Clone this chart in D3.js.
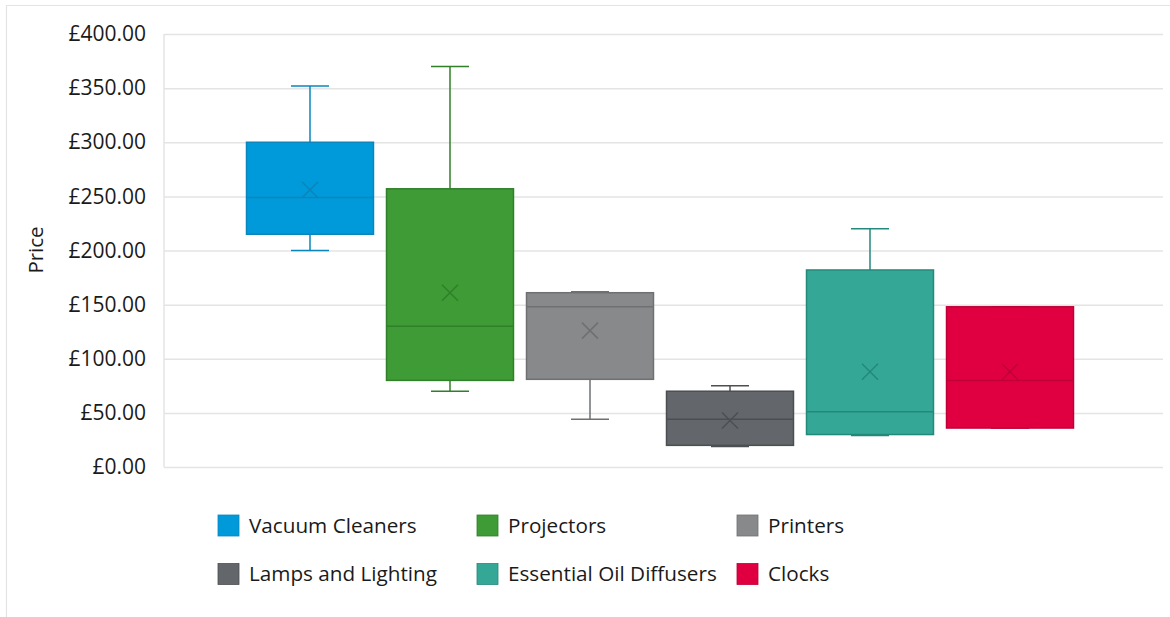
<!DOCTYPE html>
<html>
<head>
<meta charset="utf-8">
<script src="https://cdn.jsdelivr.net/npm/d3@7"></script>
<style>
  html, body { margin: 0; padding: 0; background: #fff; }
  svg { display: block; }
  svg text { font-family: "Open Sans", "Noto Sans", sans-serif; }
</style>
</head>
<body>
<svg id="chart" width="1170" height="617"></svg>
<script>
// ---- data ----
const seriesNames = ["Vacuum Cleaners", "Projectors", "Printers", "Lamps and Lighting", "Essential Oil Diffusers", "Clocks"];
const minValues    = [200, 70, 44, 19, 29, 36];
const q1Values     = [215, 80, 81, 20, 30, 36];
const medianValues = [249, 130, 148, 44, 51, 80];
const meanValues   = [256, 161, 126, 43, 88, 88];
const q3Values     = [300, 257, 161, 70, 182, 148];
const maxValues    = [352, 370, 162, 75, 220, 148];
const fillColors   = ["#009ADA", "#3F9B35", "#87898B", "#63666A", "#35A797", "#E00042"];
const strokeColors = ["#0A86BD", "#2F8029", "#6E7072", "#4C4F52", "#23897B", "#BF0036"];
const yTicks = [0, 50, 100, 150, 200, 250, 300, 350, 400];
const yTitle = "Price";

// ---- layout ----
const svg = d3.select("#chart");
const plot = { left: 164, right: 1163, top: 34, bottom: 467 };

const y = d3.scaleLinear().domain([0, 400]).range([plot.bottom, plot.top]);
const x = d3.scaleBand().domain(seriesNames).range([240, 1080]).paddingInner(0.093).paddingOuter(0.0465);
const fmt = v => "£" + d3.format(",.2f")(v);

// outer border
svg.append("line").attr("x1", 6).attr("x2", 1170).attr("y1", 5.5).attr("y2", 5.5).attr("stroke", "#e3e3e3").attr("stroke-width", 1.2);
svg.append("line").attr("x1", 6.5).attr("x2", 6.5).attr("y1", 5).attr("y2", 617).attr("stroke", "#e3e3e3").attr("stroke-width", 1.2);

// gridlines + tick labels
const yAxis = d3.axisLeft(y).tickValues(yTicks).tickSize(-(plot.right - plot.left)).tickFormat(fmt).tickPadding(18);
const gy = svg.append("g").attr("transform", `translate(${plot.left},0)`).call(yAxis);
gy.attr("font-family", null).attr("font-size", null);
gy.select(".domain").remove();
gy.selectAll(".tick line").attr("stroke", "#e4e4e4").attr("stroke-width", 1.5);
gy.selectAll(".tick text").attr("fill", "#1a1a1a").style("font-size", "21px").attr("x", -18);
// left vertical line of plot area
svg.append("line").attr("x1", plot.left).attr("x2", plot.left).attr("y1", plot.top).attr("y2", plot.bottom)
  .attr("stroke", "#e4e4e4").attr("stroke-width", 1.5);

// y title
svg.append("text").attr("transform", `translate(36,250) rotate(-90)`).attr("text-anchor", "middle").attr("dy", "0.35em")
  .style("font-size", "20.5px").attr("fill", "#1a1a1a").text(yTitle);

// boxes
const data = seriesNames.map((s, i) => ({
  name: s, min: minValues[i], q1: q1Values[i], med: medianValues[i], mean: meanValues[i],
  q3: q3Values[i], max: maxValues[i], fill: fillColors[i], stroke: strokeColors[i]
}));

const g = svg.append("g");
const bw = x.bandwidth();
const capW = 38;
data.forEach(d => {
  const cx = x(d.name) + bw / 2;
  const gg = g.append("g");
  // whiskers
  gg.append("line").attr("x1", cx).attr("x2", cx).attr("y1", y(d.max)).attr("y2", y(d.q3)).attr("stroke", d.stroke).attr("stroke-width", 1.5);
  gg.append("line").attr("x1", cx).attr("x2", cx).attr("y1", y(d.q1)).attr("y2", y(d.min)).attr("stroke", d.stroke).attr("stroke-width", 1.5);
  gg.append("line").attr("x1", cx - capW / 2).attr("x2", cx + capW / 2).attr("y1", y(d.max)).attr("y2", y(d.max)).attr("stroke", d.stroke).attr("stroke-width", 1.5);
  gg.append("line").attr("x1", cx - capW / 2).attr("x2", cx + capW / 2).attr("y1", y(d.min)).attr("y2", y(d.min)).attr("stroke", d.stroke).attr("stroke-width", 1.5);
  // box
  gg.append("rect").attr("x", x(d.name)).attr("width", bw).attr("y", y(d.q3)).attr("height", y(d.q1) - y(d.q3))
    .attr("fill", d.fill).attr("stroke", d.stroke).attr("stroke-width", 1.5);
  // median
  gg.append("line").attr("x1", x(d.name)).attr("x2", x(d.name) + bw).attr("y1", y(d.med)).attr("y2", y(d.med)).attr("stroke", d.stroke).attr("stroke-width", 1.5);
  // mean X
  const m = 8, my = y(d.mean);
  gg.append("path").attr("d", `M${cx - m},${my - m}L${cx + m},${my + m}M${cx - m},${my + m}L${cx + m},${my - m}`)
    .attr("stroke", d.stroke).attr("stroke-width", 1.5).attr("fill", "none");
});

// legend
const legendCols = [218, 477, 737];
const legendRows = [525.5, 574];
const sw = 21;
const lg = svg.append("g");
data.forEach((d, i) => {
  const lx = legendCols[i % 3], ly = legendRows[Math.floor(i / 3)];
  lg.append("rect").attr("x", lx).attr("y", ly - sw / 2).attr("width", sw).attr("height", sw)
    .attr("fill", d.fill).attr("stroke", d.stroke).attr("stroke-width", 0.8);
  lg.append("text").attr("x", lx + sw + 10).attr("y", ly).attr("dy", "0.35em")
    .style("font-size", "20.7px").attr("fill", "#1a1a1a").text(d.name);
});
</script>
</body>
</html>
